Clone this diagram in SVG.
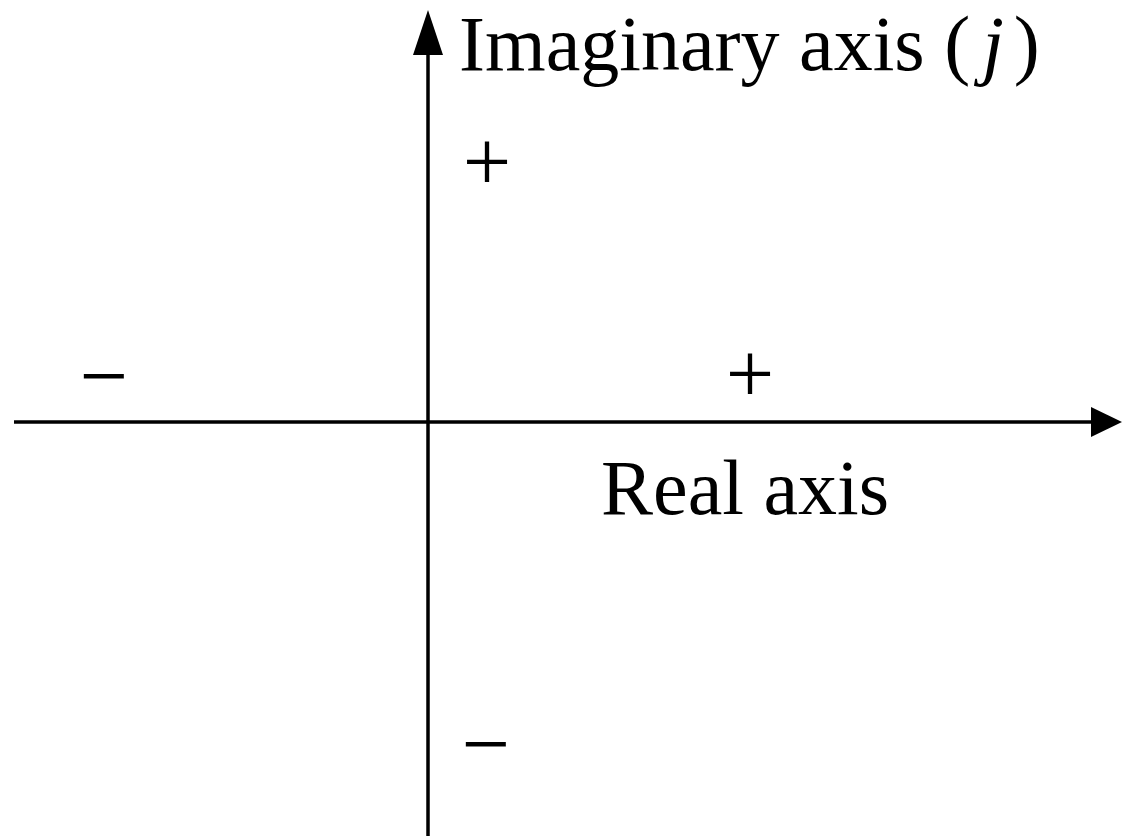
<svg xmlns="http://www.w3.org/2000/svg" width="1122" height="836" viewBox="0 0 1122 836">
<style>
.ax{stroke:#000;stroke-width:3.5;fill:none}
.lbl{font-family:"Liberation Serif","Times New Roman",serif;font-size:78px;fill:#000}
.sg{font-family:"Liberation Serif","Times New Roman",serif;font-size:86px;fill:#000;text-anchor:middle}
</style>
<rect width="1122" height="836" fill="#fff"/>
<g id="connectors">
<line class="ax" x1="14" y1="422" x2="1096" y2="422"/>
<polygon points="1122,422 1091,407 1091,437" fill="#000"/>
<line class="ax" x1="428" y1="836" x2="428" y2="50"/>
<polygon points="428,10 413,55 443,55" fill="#000"/>
</g>
<g id="imag-label"><text class="lbl" x="459" y="70">Imaginary axis (<tspan font-style="italic" dx="12">j</tspan><tspan dx="10">)</tspan></text></g>
<g id="real-label"><text class="lbl" x="601" y="514">Real axis</text></g>
<g id="sign-q1"><text class="sg" x="487" y="191">+</text></g>
<g id="sign-q4"><text class="sg" x="486" y="773">−</text></g>
<g id="sign-left"><text class="sg" x="104" y="405">−</text></g>
<g id="sign-right"><text class="sg" x="750" y="403">+</text></g>
</svg>
